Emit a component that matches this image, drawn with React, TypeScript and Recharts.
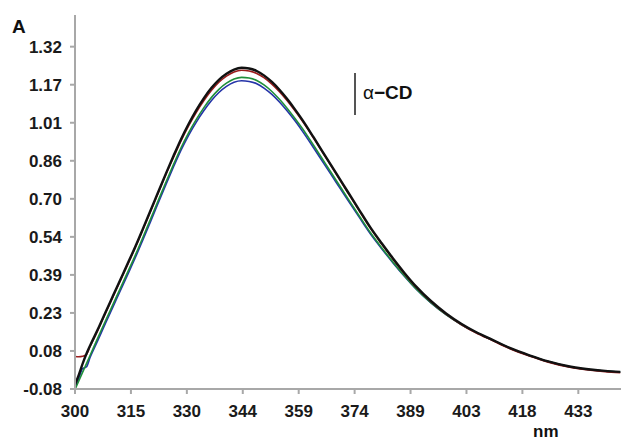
import React from "react";
import { LineChart, Line, XAxis, YAxis } from "recharts";

const wavelengths = [300,301,302,303,304,306,308,310,312,314,316,318,320,322,324,326,328,330,332,334,336,338,340,342,344,346,348,350,352,354,356,358,360,363,366,369,372,375,378,381,384,387,390,394,398,402,406,410,415,420,425,430,435,440,444];

const blackSeries = [-0.060,-0.020,0.025,0.065,0.100,0.165,0.234,0.302,0.370,0.438,0.507,0.580,0.654,0.729,0.803,0.875,0.944,1.006,1.062,1.111,1.153,1.187,1.212,1.229,1.236,1.233,1.223,1.204,1.178,1.146,1.109,1.068,1.024,0.952,0.878,0.804,0.730,0.656,0.583,0.518,0.456,0.397,0.343,0.282,0.231,0.189,0.154,0.125,0.089,0.060,0.035,0.016,0.004,-0.004,-0.008];

const redSeries = [0.055,0.054,0.056,0.063,0.097,0.161,0.230,0.298,0.366,0.434,0.503,0.576,0.650,0.725,0.799,0.869,0.937,0.998,1.053,1.101,1.143,1.177,1.202,1.219,1.226,1.223,1.213,1.195,1.169,1.138,1.102,1.062,1.019,0.949,0.875,0.801,0.727,0.653,0.580,0.515,0.453,0.394,0.340,0.279,0.228,0.186,0.151,0.122,0.086,0.057,0.032,0.013,0.001,-0.007,-0.011];

const greenSeries = [-0.080,-0.045,-0.010,0.025,0.060,0.130,0.199,0.267,0.335,0.403,0.472,0.545,0.619,0.694,0.768,0.840,0.909,0.970,1.024,1.072,1.114,1.148,1.173,1.190,1.197,1.194,1.184,1.165,1.139,1.107,1.071,1.031,0.989,0.919,0.847,0.775,0.703,0.632,0.562,0.500,0.441,0.385,0.333,0.275,0.226,0.186,0.153,0.124,0.088,0.059,0.034,0.015,0.003,-0.005,-0.009];

const blueSeries = [-0.075,-0.035,0.005,0.012,0.052,0.120,0.189,0.257,0.325,0.393,0.462,0.535,0.609,0.684,0.758,0.830,0.899,0.960,1.013,1.060,1.101,1.135,1.160,1.177,1.183,1.180,1.171,1.152,1.127,1.096,1.060,1.021,0.978,0.909,0.838,0.767,0.696,0.626,0.557,0.496,0.438,0.383,0.332,0.274,0.226,0.186,0.153,0.124,0.088,0.059,0.034,0.015,0.003,-0.005,-0.009];

const xTicks = [300, 314.77, 329.54, 344.31, 359.08, 373.85, 388.62, 403.39, 418.16, 432.93];
const yTicks = [-0.078, 0.0776, 0.2332, 0.3888, 0.5444, 0.7, 0.8556, 1.0112, 1.1668, 1.3224];

const data = wavelengths.map((w, i) => ({
  nm: w,
  black: blackSeries[i],
  red: redSeries[i],
  green: greenSeries[i],
  blue: blueSeries[i],
}));

const font = '"Liberation Sans", Arial, sans-serif';
const tickStyle = { fontFamily: font, fontWeight: 700, fontSize: 17, fill: "#1a1a1a" };

export default function App() {
  return (
    <div style={{ position: "absolute", left: 0, top: 0, width: 621, height: 442, background: "#fff" }}>
      <LineChart
        width={621}
        height={442}
        data={data}
        margin={{ top: 15, right: 0, left: 0, bottom: 0 }}
      >
        <XAxis
          dataKey="nm"
          type="number"
          domain={[300, 444.2]}
          ticks={xTicks}
          interval={0}
          allowDataOverflow
          tickFormatter={(v: number) => String(Math.round(v))}
          height={53}
          stroke="#a8a8a8"
          strokeWidth={2}
          tickSize={5}
          tickMargin={11}
          tick={tickStyle}
        />
        <YAxis
          type="number"
          domain={[-0.078, 1.452]}
          ticks={yTicks}
          interval={0}
          allowDataOverflow
          tickFormatter={(v: number) => v.toFixed(2)}
          width={75}
          stroke="#a8a8a8"
          strokeWidth={2}
          tickSize={5}
          tickMargin={8}
          tick={tickStyle}
        />
        <Line type="monotone" dataKey="blue" stroke="#2433a8" strokeWidth={1.6} dot={false} isAnimationActive={false} />
        <Line type="monotone" dataKey="green" stroke="#1f8f3a" strokeWidth={1.6} dot={false} isAnimationActive={false} />
        <Line type="monotone" dataKey="red" stroke="#9b1c1c" strokeWidth={1.6} dot={false} isAnimationActive={false} />
        <Line type="monotone" dataKey="black" stroke="#111" strokeWidth={2.4} dot={false} isAnimationActive={false} />
      </LineChart>
      <div style={{ position: "absolute", left: 12, top: 17, fontFamily: font, fontWeight: 700, fontSize: 19, color: "#111", lineHeight: "19px" }}>A</div>
      <div style={{ position: "absolute", left: 533, top: 423, fontFamily: font, fontWeight: 700, fontSize: 17, color: "#111", lineHeight: "17px" }}>nm</div>
      <div style={{ position: "absolute", left: 354, top: 73, width: 1.5, height: 42, background: "#555" }} />
      <div style={{ position: "absolute", left: 363, top: 83, fontFamily: font, fontSize: 19, color: "#111", lineHeight: "19px", whiteSpace: "nowrap" }}>
        <span>α</span><span style={{ fontWeight: 700 }}>−CD</span>
      </div>
    </div>
  );
}
